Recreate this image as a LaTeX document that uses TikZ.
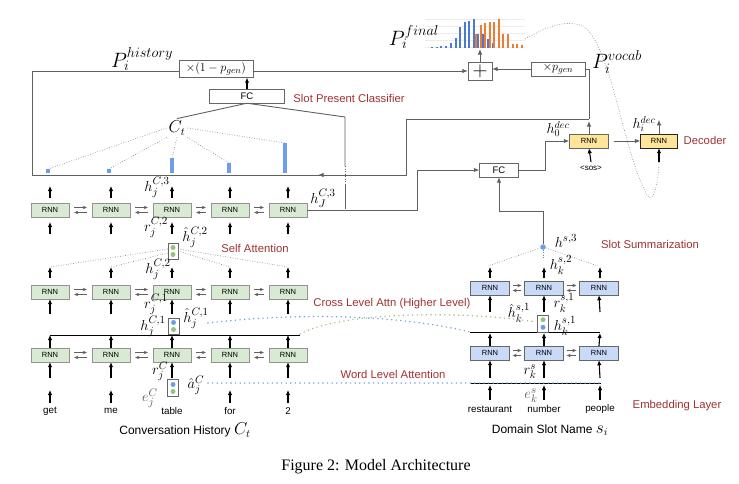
\documentclass[tikz,border=0pt]{standalone}
\usepackage[no-math]{fontspec}
\setmainfont{Liberation Sans}
\newfontfamily\capfont{Liberation Serif}
\usetikzlibrary{arrows.meta}
\definecolor{rnngreen}{HTML}{D9EAD3}
\definecolor{rnnblue}{HTML}{C9DAF8}
\definecolor{rnnyellow}{HTML}{FFE599}
\definecolor{labelred}{HTML}{A03232}
\definecolor{dotblue}{HTML}{6D9EEB}
\definecolor{dotgreen}{HTML}{93C47D}
\definecolor{barblue}{HTML}{4A7BD0}
\definecolor{barorange}{HTML}{ED7D31}
\newcommand{\fsz}[1]{\fontsize{#1}{#1}\selectfont}
\begin{document}
\begin{tikzpicture}[x=1pt,y=-1pt, every node/.style={font=\fsz{9.8}},
  rnn/.style={draw=gray!85,fill=rnngreen,minimum width=38pt,minimum height=14pt,inner sep=0pt,font=\fsz{7.5}},
  srnn/.style={rnn,fill=rnnblue,draw=gray!80!black},
  drnn/.style={rnn,fill=rnnyellow,draw=gray!80!black},
  fcbox/.style={draw=gray!80!black,fill=white,minimum height=14pt,inner sep=0pt,font=\fsz{9.5}},
  attbox/.style={draw=gray!80!black,fill=white,minimum width=11pt,minimum height=17pt,inner sep=0pt},
  redlbl/.style={text=labelred,font=\fsz{11.3}},
  mlbl/.style={font=\fsz{15},inner sep=0pt},
  uparr/.style={-{Latex[length=5pt,width=4.5pt]},line width=1.1pt},
  conn/.style={draw=gray!75!black,line width=0.9pt},
  garr/.style={conn,-{Latex[length=5.5pt,width=4.5pt]}},
  attn/.style={gray,line width=0.6pt,dash pattern=on 0.7pt off 1.8pt},
  bigdots/.style={line width=1.6pt,line cap=round,dash pattern=on 0pt off 4.6pt},
  lr/.style={gray!75!black,-{Stealth[length=4pt,width=3.5pt]},line width=0.6pt,shorten <=5pt,shorten >=5pt}]
\fill[white] (0,0) rectangle (739,483);
\useasboundingbox (0,0) rectangle (739,483);
% conversation history encoder
\foreach \r/\y in {1/355,2/292,3/210}
  \foreach \c/\x in {1/50,2/111,3/172,4/230,5/288}
    \node[rnn] (c\r\c) at (\x,\y) {RNN};
\foreach \r in {1,2,3}
  \foreach \c/\n in {1/2,2/3,3/4,4/5} {
    \draw[lr] ([yshift=2.5pt]c\r\c.east) -- ([yshift=2.5pt]c\r\n.west);
    \draw[lr] ([yshift=-2.5pt]c\r\n.west) -- ([yshift=-2.5pt]c\r\c.east);
  }
\foreach \c/\x/\w in {1/50/get,2/111/me,3/172/table,4/230/for,5/288/2} {
  \node (w\c) at (\x,411) {\w};
  \coordinate (t2\c) at (\x,267);
  \draw[uparr] (\x,378) -- (c1\c.south);
  \draw[uparr] (c1\c.north) -- (\x,335);
  \draw[uparr] (\x,314) -- (c2\c.south);
  \draw[uparr] (\x,278) -- (t2\c);
  \draw[uparr] (\x,234) -- (\x,222);
  \draw[uparr] (\x,198) -- (\x,186);
}
\foreach \x in {50,111,230,288} \draw[uparr] (\x,403) -- (\x,390);
\draw[line width=0.9pt] (50,335) -- (300,335);
\node[font=\fsz{12}] (tconv) at (185,430) {Conversation History {\fsz{16}$C_t$}};
% attention boxes
\node[attbox] (wa) at (173,388) {};
\fill[dotblue] ([yshift=3.5pt]wa.center) circle (2.5pt);
\fill[dotgreen] ([yshift=-3.5pt]wa.center) circle (2.5pt);
\node[attbox,minimum height=16pt] (ca1) at (173.5,326) {};
\fill[dotblue] ([yshift=3.5pt]ca1.center) circle (2.5pt);
\fill[dotgreen] ([yshift=-3.5pt]ca1.center) circle (2.5pt);
\node[attbox,minimum width=10pt,minimum height=16pt] (sa) at (173,251) {};
\fill[dotgreen] ([yshift=3.5pt]sa.center) circle (2.5pt);
\fill[dotgreen] ([yshift=-3.5pt]sa.center) circle (2.5pt);
\draw[attn] ([yshift=2pt]sa.west) -- (t21);
\draw[attn] ([yshift=-2pt]sa.west) -- (t22);
\draw[attn] (sa.east) -- (t24);
\draw[attn] ([yshift=2pt]sa.east) -- (t25);
% labels, history side
\node[mlbl] (hc3) at (157,187) {$h_j^{C,3}$};
\node[mlbl] (hJ3) at (323,198) {$h_J^{C,3}$};
\node[mlbl] (rc2) at (156,227) {$r_j^{C,2}$};
\node[mlbl] (hhc2) at (195,237) {$\hat{h}_j^{C,2}$};
\node[mlbl] (hc2) at (158,269) {$h_j^{C,2}$};
\node[mlbl] (rc1) at (156,304) {$r_j^{C,1}$};
\node[mlbl] (hc1) at (153,326) {$h_j^{C,1}$};
\node[mlbl] (hhc1) at (196,318) {$\hat{h}_j^{C,1}$};
\node[mlbl] (rc) at (160,371) {$r_j^{C}$};
\node[mlbl,text=gray!70!black] (ec) at (150,398) {$e_j^{C}$};
\node[mlbl] (ac) at (196,385) {$\hat{a}_j^{C}$};
% domain slot encoder
\foreach \r/\y in {1/353,2/288}
  \foreach \c/\x in {1/490,2/544,3/599}
    \node[srnn,minimum width=39pt] (s\r\c) at (\x,\y) {RNN};
\foreach \r in {1,2}
  \foreach \c/\n in {1/2,2/3} {
    \draw[lr,shorten <=3pt,shorten >=3pt] ([yshift=2.5pt]s\r\c.east) -- ([yshift=2.5pt]s\r\n.west);
    \draw[lr,shorten <=3pt,shorten >=3pt] ([yshift=-2.5pt]s\r\n.west) -- ([yshift=-2.5pt]s\r\c.east);
  }
\foreach \c/\x/\w in {1/490/restaurant,2/544/number,3/600/people} {
  \node (v\c) at (\x,409) {\w};
  \coordinate (st\c) at (\x,267);
  \draw[uparr] (\x,400) -- (\x,385);
  \draw[uparr] (\x,378) -- (s1\c.south);
  \draw[uparr] (s1\c.north) -- (\x,333);
  \draw[uparr] (\x,312) -- (s2\c.south);
  \draw[uparr] (\x,278) -- (st\c);
}
\draw[line width=0.9pt] (470,332) -- (600,332);
\draw[line width=0.9pt] (471,383) -- (601,383);
\node[font=\fsz{12}] (tslot) at (550,430) {Domain Slot Name {\fsz{16}$s_i$}};
\node[attbox,minimum height=17pt] (sa1) at (543,323.5) {};
\fill[dotgreen] ([yshift=3.8pt]sa1.center) circle (2.5pt);
\fill[dotblue] ([yshift=-3.8pt]sa1.center) circle (2.5pt);
\node[circle,fill=dotblue,inner sep=0pt,minimum size=5.5pt] (hs3) at (543,247) {};
\draw[attn] (hs3) -- (488,266);
\draw[attn] (hs3) -- (598,266);
\draw[attn] (hs3) -- (543,259);
\node[mlbl] (hs3l) at (566,241) {$h^{s,3}$};
\node[mlbl] (hs2) at (561,265) {$h_k^{s,2}$};
\node[mlbl] (hhs1) at (519,313) {$\hat{h}_k^{s,1}$};
\node[mlbl] (rs1) at (564,303) {$r_k^{s,1}$};
\node[mlbl] (hs1) at (565,326) {$h_k^{s,1}$};
\node[mlbl] (rs) at (530,372) {$r_k^{s}$};
\node[mlbl,text=gray!70!black] (es) at (531,396) {$e_k^{s}$};
% word level and cross level attention
\draw[bigdots,dotblue] (208,383) -- (601,383);
\draw[bigdots,dotblue] (208,323) .. controls (300,312) and (400,315) .. (470,332);
\draw[bigdots,dotgreen] (300,334) .. controls (340,312) and (460,310) .. (536,322);
% slot gate and history pointer
\node[mlbl,inner sep=2pt,font=\fsz{16}] (ct) at (177,128) {$C_t$};
\foreach \i/\x/\h in {1/48/4,2/109/4,3/172/15,4/229/10,5/285/30} {
  \fill[dotblue] (\x-1.6,173) rectangle (\x+1.6,173-\h);
  \coordinate (b\i) at (\x,173-\h);
}
\draw[attn] (ct.west) -- (b1);
\draw[attn] (ct.south west) -- (b2);
\draw[attn] (ct.south) -- (b3);
\draw[attn] (ct.south east) -- (b4);
\draw[attn] (ct.east) -- (b5);
\node[fcbox,minimum width=75pt] (fc1) at (247,96) {FC};
\node[fcbox,minimum width=74pt,minimum height=17pt,font=\fsz{12.5}] (mulh) at (216,69) {$\times(1-p_{gen})$};
\node[fcbox,minimum width=24pt,minimum height=18pt,font=\fsz{20}] (plus) at (480,71) {$+$};
\node[fcbox,minimum width=54pt,font=\fsz{13}] (mulp) at (558,69) {$\times p_{gen}$};
\node[fcbox,minimum width=39pt] (fc2) at (499,170) {FC};
\node[redlbl] (lspc) at (349,98) {Slot Present Classifier};
\node[font=\fsz{21}] (phist) at (142,59) {$P_i^{history}$};
\draw[uparr] (fc1.north) -- (fc1.north |- mulh.south);
\draw[conn] (fc1.south) -- (ct.north);
\draw[conn] (fc1.south) -- (345,117) -- (345,166);
\draw[conn,dash pattern=on 1pt off 1.5pt] (345,166) -- (345,184);
\draw[conn] (345,184) -- (345,209);
\draw[garr] (c35.east) -- (417,210) -- (417,170) -- (fc2.west);
\draw[garr] (hs3) -- (543,211) -- (499,211) -- (fc2.south);
% decoder
\node[drnn,minimum width=39pt] (d1) at (589,141) {RNN};
\node[drnn,draw=black!85,minimum width=37pt] (d2) at (659,141) {RNN};
\node[font=\fsz{8}] (sos) at (591,168) {<sos>};
\node[redlbl] (ldec) at (705,140) {Decoder};
\node[mlbl,font=\fsz{14}] (h0d) at (558,129) {$h_0^{dec}$};
\node[mlbl,font=\fsz{14}] (hid) at (644,124) {$h_i^{dec}$};
\node[font=\fsz{21}] (pvoc) at (617,62) {$P_i^{vocab}$};
\draw[garr] (fc2.east) -- (545,170) -- (545,141) -- (d1.west);
\draw[garr,shorten <=5pt] (d1.east) -- (d2.west);
\draw[uparr] (sos.north) -- (d1.south);
\draw[garr] (d1.north) -- (589,121);
\draw[garr] (d2.north) -- ++(0,-14);
\draw[conn] (mulp.east) -- (589,69) -- (589,119);
\draw[garr] (589,119) -- (406,119) -- (406,175) -- (318,175);
\draw[conn] (320,175) -- (32,175) -- (32,71) -- ([yshift=-2pt]mulh.west);
\draw[garr] ([yshift=-2pt]mulh.east) -- (plus.west);
\draw[garr] (mulp.west) -- (mulp.west -| plus.east);
% final distribution
\foreach \g in {19,26,33,40,47.5} \draw[gray!15,line width=0.4pt] (425,\g) -- (525,\g);
\foreach \x/\h in {432/0.8,437/1,441/1.5,446/2,451/5,456/10,460/21,465/26,469/27,474/29,478/14,483/14,488/9,493/5}
  \fill[barblue] (\x-0.9,47.5) rectangle (\x+0.9,47.5-\h);
\foreach \x/\h in {476/14,481/23,485/25,490/26,494/26,499/29,503/14,508/14,513/4,517/4,522/3}
  \fill[barorange] (\x-0.9,47.5) rectangle (\x+0.9,47.5-\h);
\coordinate (pf) at (480,49);
\node[font=\fsz{20}] (pfin) at (414,37) {$P_i^{final}$};
\draw[garr] (plus.north) -- (pf);
\draw[attn] (525,39) .. controls (545,28) and (562,20) .. (580,25) .. controls (610,35) and (622,150) .. (647,195) .. controls (653,205) and (658,185) .. (659,162);
\draw[uparr] (659,162) -- (d2.south);
% other labels
\node[redlbl] (lsa) at (255,248) {Self Attention};
\node[redlbl] (lcla) at (392,304) {Cross Level Attn (Higher Level)};
\node[redlbl] (lwla) at (393,374) {Word Level Attention};
\node[redlbl] (lss) at (650,244) {Slot Summarization};
\node[redlbl] (lemb) at (677,406) {Embedding Layer};
\node[font=\capfont\fsz{16}] (cap) at (376,467) {Figure 2: Model Architecture};
\end{tikzpicture}
\end{document}
